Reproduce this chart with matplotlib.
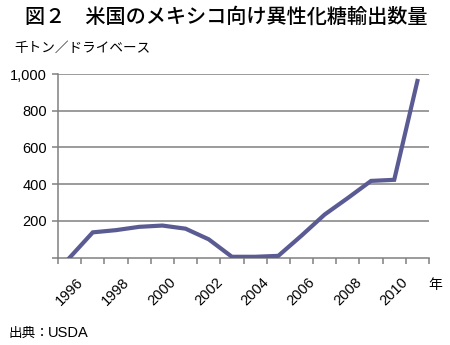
import matplotlib
matplotlib.use("Agg")
import matplotlib.pyplot as plt
from matplotlib.ticker import FixedLocator

years = list(range(1996, 2012))
exports = [0, 138, 150, 168, 175, 158, 100, 5, 5, 10, 120, 235, 325, 418, 424, 962]
year_labels = ["1996", "1998", "2000", "2002", "2004", "2006", "2008", "2010"]
y_ticks = [0, 200, 400, 600, 800, 1000]
y_tick_labels = ["", "200", "400", "600", "800", "1,000"]

title = "図２　米国のメキシコ向け異性化糖輸出数量"
unit = "千トン／ドライベース"
source = "出典："
source_name = "USDA"

jp = ["Noto Sans CJK JP", "DejaVu Sans"]
num = ["Liberation Sans", "DejaVu Sans"]

W, H = 450, 345
fig = plt.figure(figsize=(W / 100, H / 100), dpi=100)
ax = fig.add_axes([58 / W, 1 - 257.7 / H, (429 - 58) / W, (257.7 - 74) / H])

x = list(range(len(years)))
ax.plot(x, exports, color="#5b5b94", lw=3.0, solid_joinstyle="miter", zorder=3)

ax.set_xlim(-0.5, len(years) - 0.5)
ax.set_ylim(0, 1000)

grid_c = "#808080"
for v in y_ticks[1:]:
    ax.axhline(v, color=grid_c, lw=1.1, zorder=1)

for s in ["top", "right"]:
    ax.spines[s].set_visible(False)
for s in ["left", "bottom"]:
    ax.spines[s].set_color(grid_c)
    ax.spines[s].set_linewidth(1.1)

ax.set_yticks(y_ticks)
ax.set_yticklabels(y_tick_labels, family=num, fontsize=10.5)
ax.tick_params(axis="y", length=4, width=1.1, color=grid_c, pad=4)

# category boundary ticks on x, labels every other year
ax.xaxis.set_major_locator(FixedLocator([i - 0.5 for i in range(len(years) + 1)]))
ax.set_xticklabels([])
ax.tick_params(axis="x", length=4, width=1.1, color=grid_c)
for i, yr in enumerate(years):
    if str(yr) in year_labels:
        ax.text(i, -185, str(yr), rotation=45, ha="center", va="center",
                family=num, fontsize=10.5, transform=ax.transData, clip_on=False)

fig.text(435 / W, 1 - 285 / H, "年", family=jp, fontsize=10, ha="center", va="center")
fig.text(226 / W, 1 - 17 / H, title, family=jp, fontsize=14.5, fontweight="medium",
         ha="center", va="center")
fig.text(14 / W, 1 - 48 / H, unit, family=jp, fontsize=9.8, ha="left", va="center")
fig.text(8 / W, 1 - 333 / H, source, family=jp, fontsize=9.8, ha="left", va="center")
fig.text(48 / W, 1 - 333 / H, source_name, family=num, fontsize=10.5, ha="left", va="center")

fig.savefig("out.png", dpi=100)
